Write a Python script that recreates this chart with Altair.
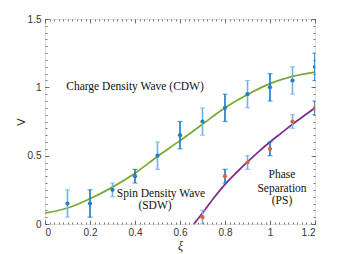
import altair as alt
import pandas as pd

# ---- data ----
cdw_xi = [0.1, 0.2, 0.3, 0.4, 0.5, 0.6, 0.7, 0.8, 0.9, 1.0, 1.1, 1.2]
cdw_v = [0.15, 0.15, 0.25, 0.35, 0.50, 0.65, 0.75, 0.85, 0.95, 1.00, 1.05, 1.15]
cdw_err = [0.10, 0.10, 0.05, 0.05, 0.10, 0.10, 0.10, 0.10, 0.10, 0.10, 0.10, 0.10]
cdw_shade = ["light", "dark", "light", "dark", "light", "dark",
             "light", "dark", "light", "dark", "light", "dark"]

ps_xi = [0.7, 0.8, 0.9, 1.0, 1.1, 1.2]
ps_v = [0.05, 0.35, 0.45, 0.55, 0.75, 0.85]
ps_err = [0.05, 0.05, 0.05, 0.05, 0.05, 0.05]
ps_shade = ["light", "dark", "light", "dark", "light", "dark"]

fit_cdw_xi = [0.0, 0.1, 0.2, 0.3, 0.4, 0.5, 0.6, 0.7, 0.8, 0.9, 1.0, 1.1, 1.2]
fit_cdw_v = [0.08, 0.117, 0.185, 0.27, 0.372, 0.494, 0.61, 0.73, 0.85, 0.947, 1.027, 1.08, 1.112]

fit_ps_xi = [0.662, 0.7, 0.75, 0.8, 0.85, 0.9, 0.95, 1.0, 1.05, 1.1, 1.15, 1.2]
fit_ps_v = [0.0, 0.08, 0.19, 0.29, 0.375, 0.455, 0.53, 0.60, 0.665, 0.73, 0.79, 0.85]

x_major = [0, 0.2, 0.4, 0.6, 0.8, 1.0, 1.2]
x_minor = [round(i * 0.02, 2) for i in range(61)]
y_major = [0, 0.5, 1.0, 1.5]
y_minor = [round(i * 0.05, 2) for i in range(31)]

# ---- tables ----
cdw = pd.DataFrame({"xi": cdw_xi, "V": cdw_v,
                    "lo": [v - e for v, e in zip(cdw_v, cdw_err)],
                    "hi": [v + e for v, e in zip(cdw_v, cdw_err)],
                    "shade": cdw_shade})
ps = pd.DataFrame({"xi": ps_xi, "V": ps_v,
                   "lo": [max(0.0, v - e) for v, e in zip(ps_v, ps_err)],
                   "hi": [v + e for v, e in zip(ps_v, ps_err)],
                   "shade": ps_shade})
fit_cdw = pd.DataFrame({"xi": fit_cdw_xi, "V": fit_cdw_v})
fit_ps = pd.DataFrame({"xi": fit_ps_xi, "V": fit_ps_v})
axdf = pd.DataFrame({"xi": [0.0, 1.2], "V": [0.0, 1.5]})

xs = alt.Scale(domain=[0, 1.2], nice=False, zero=False)
ys = alt.Scale(domain=[0, 1.5], nice=False, zero=False)

W, H = 270, 205
TICK = "#555555"
LAB = "#333333"


def axis_layer(xaxis, yaxis):
    return alt.Chart(axdf).mark_point(opacity=0).encode(
        x=alt.X("xi:Q", scale=xs, axis=xaxis),
        y=alt.Y("V:Q", scale=ys, axis=yaxis),
    )


def tick_axis(orient, values, size, offset):
    return alt.Axis(orient=orient, values=values, ticks=True, tickSize=size,
                    tickColor=TICK, tickWidth=0.8, labels=False, domain=False,
                    grid=False, title=None, offset=offset)


labels = axis_layer(
    alt.Axis(orient="bottom", values=x_major, format="~g", ticks=False, domain=False,
             grid=False, labelFont="Liberation Sans", labelFontSize=10,
             labelColor=LAB, labelPadding=3, title="ξ", titleFont="Liberation Serif",
             titleFontStyle="italic", titleFontWeight="normal", titleFontSize=12,
             titleColor="#222", titlePadding=3),
    alt.Axis(orient="left", values=y_major, format="~g", ticks=False, domain=False,
             grid=False, labelFont="Liberation Sans", labelFontSize=10,
             labelColor=LAB, labelPadding=4, title="V", titleFont="Liberation Sans",
             titleFontWeight="normal", titleFontSize=11, titleColor="#222",
             titlePadding=1),
)
ticks_bottom_major = axis_layer(tick_axis("top", x_major, 4, -H), tick_axis("right", y_major, 4, -W))
ticks_bottom_minor = axis_layer(tick_axis("top", x_minor, 2, -H), tick_axis("right", y_minor, 2, -W))
ticks_top_major = axis_layer(tick_axis("bottom", x_major, 4, -H), tick_axis("left", y_major, 4, -W))
ticks_top_minor = axis_layer(tick_axis("bottom", x_minor, 2, -H), tick_axis("left", y_minor, 2, -W))

X = lambda: alt.X("xi:Q", scale=xs, axis=None)
Y = lambda f="V": alt.Y(f"{f}:Q", scale=ys, axis=None)

green = alt.Chart(fit_cdw).mark_line(color="#77AC30", strokeWidth=1.8, interpolate="monotone",
                                     clip=True).encode(x=X(), y=Y())
purple = alt.Chart(fit_ps).mark_line(color="#7E2F8E", strokeWidth=1.8, interpolate="monotone",
                                     clip=True).encode(x=X(), y=Y())


def errorbars(df, light, dark):
    col = alt.Color("shade:N", scale=alt.Scale(domain=["light", "dark"], range=[light, dark]),
                    legend=None)
    bars = alt.Chart(df).mark_rule(strokeWidth=1.6, clip=True).encode(
        x=X(), y=Y("lo"), y2="hi:Q", color=col)
    cap_lo = alt.Chart(df).mark_tick(orient="horizontal", size=5, thickness=1.2, clip=True).encode(
        x=X(), y=Y("lo"), color=col)
    cap_hi = alt.Chart(df).mark_tick(orient="horizontal", size=5, thickness=1.2, clip=True).encode(
        x=X(), y=Y("hi"), color=col)
    return bars + cap_lo + cap_hi


cdw_bars = errorbars(cdw, "#6FB3E3", "#1478C8")
ps_bars = errorbars(ps, "#EE8A5A", "#DD5A22")

cdw_pts = alt.Chart(cdw).mark_point(filled=True, size=18, color="#2A7CC0", opacity=1,
                                    clip=True).encode(x=X(), y=Y())
ps_pts = alt.Chart(ps).mark_point(filled=True, size=18, color="#E2632C", opacity=1,
                                  clip=True).encode(x=X(), y=Y())

TF = "Liberation Serif"
TS = 11.5


def txt(s, px, py):
    return alt.Chart(axdf.head(1)).mark_text(text=s, font=TF, fontSize=TS, color="#111",
                                             align="center", baseline="middle").encode(
        x=alt.value(px), y=alt.value(py))


texts = (txt("Charge Density Wave (CDW)", 90, 68)
         + txt("Spin Density Wave", 116, 175)
         + txt("(SDW)", 110, 187)
         + txt("Phase", 237, 156)
         + txt("Separation", 237, 169.5)
         + txt("(PS)", 237, 182))

chart = alt.layer(
    labels, ticks_bottom_major, ticks_bottom_minor, ticks_top_major, ticks_top_minor,
    green, purple, cdw_bars, ps_bars, cdw_pts, ps_pts, texts,
).resolve_axis(x="independent", y="independent").properties(
    width=W, height=H, autosize=alt.AutoSizeParams(type="none"),
    padding={"left": 37, "top": 11, "right": 26, "bottom": 30},
).configure_view(stroke="#444444", strokeWidth=1).configure(background="white")

chart.save("out.html", embed_options={"renderer": "svg", "actions": False})
